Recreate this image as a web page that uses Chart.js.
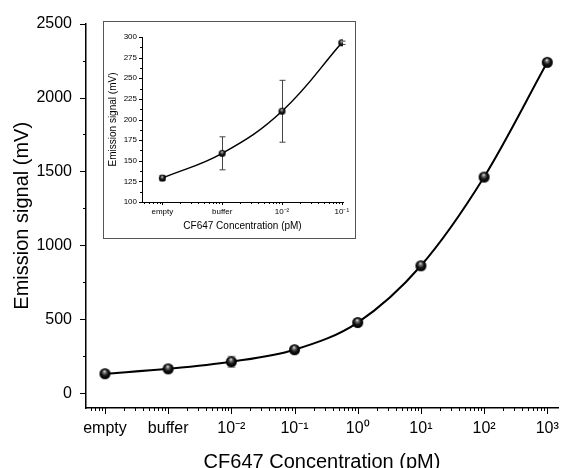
<!DOCTYPE html>
<html>
<head>
<meta charset="utf-8">
<script src="https://cdn.jsdelivr.net/npm/chart.js@4/dist/chart.umd.min.js"></script>
<style>
  html, body { margin: 0; padding: 0; background: #fff; }
  #wrap { position: relative; width: 570px; height: 468px; overflow: hidden; }
  #main { position: absolute; left: 0; top: 0; }
  #insetBox { position: absolute; left: 103px; top: 21px; width: 251px; height: 216px; border: 1px solid #555; background: #fff; }
  #inset { display: block; }
</style>
</head>
<body>
<div id="wrap">
  <canvas id="main" width="570" height="468"></canvas>
  <div id="insetBox"><canvas id="inset" width="251" height="216"></canvas></div>
</div>
<script>
// ---- data ----
const categories = ['empty', 'buffer', '10\u207B\u00B2', '10\u207B\u00B9', '10\u2070', '10\u00B9', '10\u00B2', '10\u00B3'];
const mainValues = [132, 165, 213, 294, 478, 862, 1462, 2238];
const mainErrors = [3, 20, 37, 3, 6, 6, 6, 6];
const insetCategories = ['empty', 'buffer', '10\u207B\u00B2', '10\u207B\u00B9'];
const insetValues = [129, 159, 210, 293];
const insetErrors = [3, 20, 37.5, 2];
const mainYTicks = [0, 500, 1000, 1500, 2000, 2500];
const mainYMinor = [250, 750, 1250, 1750, 2250];
const insetYTicks = [100, 125, 150, 175, 200, 225, 250, 275, 300];
const insetYMinor = [112.5, 137.5, 162.5, 187.5, 212.5, 237.5, 262.5, 287.5];
const xAxisTitle = 'CF647 Concentration (pM)';
const yAxisTitle = 'Emission signal (mV)';

const FONT = '"Liberation Sans", Arial, sans-serif';

// minor log-like ticks between category positions
function minorTicks(min, max) {
  const out = [];
  for (let i = Math.floor(min) - 1; i <= Math.ceil(max); i++) {
    for (let k = 2; k <= 9; k++) {
      const v = i + Math.log10(k);
      if (v >= min && v <= max) out.push(v);
    }
  }
  return out;
}

// sphere marker sprite
function sphere(r) {
  const c = document.createElement('canvas');
  const s = Math.ceil(r * 2 + 2);
  c.width = s; c.height = s;
  const g = c.getContext('2d');
  const cx = s / 2, cy = s / 2;
  const grad = g.createRadialGradient(cx - r * 0.1, cy - r * 0.45, r * 0.05, cx, cy, r);
  grad.addColorStop(0, '#e8e8e8');
  grad.addColorStop(0.25, '#6a6a6a');
  grad.addColorStop(0.6, '#111');
  grad.addColorStop(1, '#000');
  g.fillStyle = grad;
  g.beginPath(); g.arc(cx, cy, r, 0, Math.PI * 2); g.fill();
  return c;
}

const axisTicks = {
  id: 'axisTicks',
  afterDraw(chart, args, o) {
    const ctx = chart.ctx, xs = chart.scales.x, ys = chart.scales.y, a = chart.chartArea;
    ctx.save();
    ctx.strokeStyle = o.color; ctx.lineWidth = o.width;
    ctx.beginPath();
    const xt = (v, len) => { const p = Math.round(xs.getPixelForValue(v)) + 0.5; ctx.moveTo(p, a.bottom); ctx.lineTo(p, a.bottom + len); };
    const yt = (v, len) => { const p = Math.round(ys.getPixelForValue(v)) + 0.5; ctx.moveTo(a.left, p); ctx.lineTo(a.left - len, p); };
    o.xMajor.forEach(v => xt(v, o.majorLen));
    o.xMinor.forEach(v => xt(v, o.minorLen));
    o.yMajor.forEach(v => yt(v, o.majorLen));
    o.yMinor.forEach(v => yt(v, o.minorLen));
    ctx.stroke();
    ctx.restore();
  }
};

const errorBars = {
  id: 'errorBars',
  beforeDatasetsDraw(chart, args, o) {
    const ctx = chart.ctx, xs = chart.scales.x, ys = chart.scales.y;
    const ds = chart.data.datasets[0];
    ctx.save();
    ctx.strokeStyle = o.color; ctx.lineWidth = o.width;
    ctx.beginPath();
    ds.data.forEach((p, i) => {
      const e = ds.errors[i];
      const px = Math.round(xs.getPixelForValue(p.x)) + 0.5;
      const top = ys.getPixelForValue(p.y + e), bot = ys.getPixelForValue(p.y - e);
      ctx.moveTo(px, top); ctx.lineTo(px, bot);
      ctx.moveTo(px - o.cap, top); ctx.lineTo(px + o.cap, top);
      ctx.moveTo(px - o.cap, bot); ctx.lineTo(px + o.cap, bot);
    });
    ctx.stroke();
    ctx.restore();
  }
};

function makeChart(canvas, cfg) {
  const labels = cfg.categories;
  return new Chart(canvas, {
    type: 'line',
    data: {
      datasets: [{
        data: cfg.values.map((v, i) => ({ x: i, y: v })),
        errors: cfg.errors,
        borderColor: '#000',
        borderWidth: cfg.lineWidth,
        cubicInterpolationMode: cfg.interp,
        tension: 0.4,
        pointStyle: sphere(cfg.r),
        pointRadius: cfg.r,
        fill: false
      }]
    },
    options: {
      responsive: false,
      animation: false,
      devicePixelRatio: 1,
      layout: { padding: cfg.padding },
      plugins: {
        legend: { display: false },
        tooltip: { enabled: false },
        axisTicks: {
          color: '#000', width: 1,
          majorLen: cfg.majorLen, minorLen: cfg.minorLen,
          xMajor: labels.map((_, i) => i),
          xMinor: minorTicks(cfg.xMin, cfg.xMax),
          yMajor: cfg.yTicks, yMinor: cfg.yMinor
        },
        errorBars: { color: cfg.errColor, width: 1, cap: cfg.cap }
      },
      scales: {
        x: {
          type: 'linear', min: cfg.xMin, max: cfg.xMax,
          grid: { display: true, drawOnChartArea: false, drawTicks: false },
          border: { display: true, color: '#000', width: cfg.axisWidth },
          afterBuildTicks: s => { s.ticks = labels.map((_, i) => ({ value: i })); },
          afterFit: s => { s.height = cfg.xHeight; },
          ticks: {
            autoSkip: false, maxRotation: 0, padding: cfg.xTickPad, color: '#000',
            font: { family: FONT, size: cfg.tickSize },
            callback: v => labels[v]
          },
          title: {
            display: true, text: xAxisTitle, color: '#000',
            font: { family: FONT, size: cfg.titleSize, lineHeight: 1 },
            padding: { top: 0, bottom: cfg.xTitlePad }
          }
        },
        y: {
          type: 'linear', min: cfg.yMin, max: cfg.yMax,
          grid: { display: true, drawOnChartArea: false, drawTicks: false },
          border: { display: true, color: '#000', width: cfg.axisWidth },
          afterBuildTicks: s => { s.ticks = cfg.yTicks.map(v => ({ value: v })); },
          afterFit: s => { s.width = cfg.yWidth; },
          ticks: {
            padding: cfg.yTickPad, color: '#000',
            font: { family: FONT, size: cfg.tickSize },
            callback: v => String(v)
          },
          title: {
            display: true, text: yAxisTitle, color: '#000',
            font: { family: FONT, size: cfg.titleSize, lineHeight: 1 },
            padding: { top: cfg.yTitlePad, bottom: 0 }
          }
        }
      }
    },
    plugins: [axisTicks, errorBars]
  });
}

makeChart(document.getElementById('main'), {
  categories, values: mainValues, errors: mainErrors,
  r: 5.5, lineWidth: 2, axisWidth: 1.5, interp: 'monotone',
  xMin: -0.3, xMax: 7.17, yMin: -100, yMax: 2500,
  yTicks: mainYTicks, yMinor: mainYMinor,
  padding: { top: 19, right: 3, left: 0, bottom: 0 },
  xHeight: 60, yWidth: 86,
  tickSize: 16, titleSize: 20,
  xTickPad: 11, yTickPad: 14,
  xTitlePad: -4, yTitlePad: 12,
  majorLen: 6, minorLen: 3,
  errColor: '#888', cap: 4
});

makeChart(document.getElementById('inset'), {
  categories: insetCategories, values: insetValues, errors: insetErrors,
  r: 3.5, lineWidth: 1.5, axisWidth: 1, interp: 'default',
  xMin: -0.34, xMax: 3.02, yMin: 100, yMax: 300,
  yTicks: insetYTicks, yMinor: insetYMinor,
  padding: { top: 15, right: 12, left: 0, bottom: 0 },
  xHeight: 36, yWidth: 38,
  tickSize: 8, titleSize: 10,
  xTickPad: 5, yTickPad: 5,
  xTitlePad: 7, yTitlePad: 4,
  majorLen: 3, minorLen: 2,
  errColor: '#444', cap: 3
});
</script>
</body>
</html>
